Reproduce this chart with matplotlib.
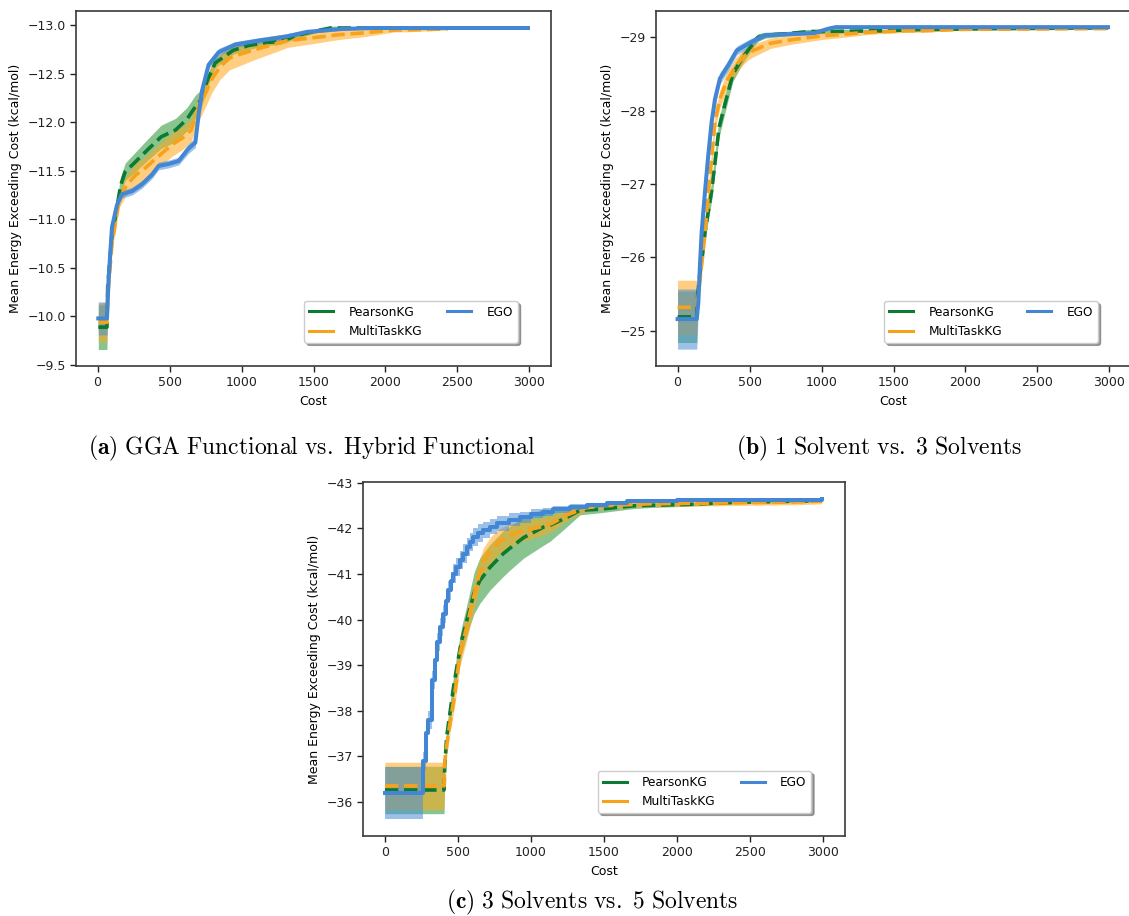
import numpy as np
import matplotlib
matplotlib.use("Agg")
import matplotlib.pyplot as plt

# ---------------- data ----------------
# Panel (a) GGA Functional vs. Hybrid Functional
a_pkg_x = [5, 65, 70, 100, 123, 160, 192, 255, 350, 442, 542, 620, 680, 717, 760, 817, 942, 1050, 1167, 1267, 1400, 1517, 1617, 1800, 2150]
a_pkg_mean = [-9.89, -9.89, -10.3, -10.85, -11.02, -11.35, -11.49, -11.58, -11.72, -11.85, -11.92, -12.03, -12.16, -12.23, -12.42, -12.61, -12.74, -12.79, -12.82, -12.83, -12.9, -12.94, -12.97, -12.97, -12.97]
a_pkg_err = [0.23, 0.23, 0.12, 0.08, 0.08, 0.09, 0.09, 0.1, 0.11, 0.12, 0.12, 0.12, 0.12, 0.1, 0.07, 0.05, 0.04, 0.04, 0.03, 0.03, 0.03, 0.02, 0.02, 0.01, 0.01]

a_mtkg_x = [5, 65, 70, 100, 150, 200, 267, 317, 400, 517, 592, 650, 705, 750, 792, 850, 917, 967, 1100, 1267, 1317, 1500, 1667, 1850, 2067, 2142, 2430]
a_mtkg_mean = [-9.94, -9.94, -10.2, -10.75, -11.2, -11.35, -11.46, -11.51, -11.62, -11.77, -11.84, -11.92, -12.16, -12.3, -12.44, -12.57, -12.66, -12.69, -12.75, -12.82, -12.84, -12.87, -12.9, -12.92, -12.95, -12.95, -12.96]
a_mtkg_err = [0.2, 0.2, 0.12, 0.08, 0.08, 0.1, 0.12, 0.12, 0.12, 0.12, 0.12, 0.12, 0.14, 0.14, 0.14, 0.13, 0.12, 0.12, 0.1, 0.08, 0.07, 0.06, 0.05, 0.04, 0.02, 0.02, 0.01]

a_ego_x = [5, 65, 76, 100, 135, 170, 239, 308, 378, 424, 494, 563, 632, 679, 702, 725, 771, 841, 957, 1119, 1304, 1455, 1700, 1917, 2990]
a_ego_mean = [-9.98, -9.98, -10.37, -10.92, -11.15, -11.26, -11.29, -11.36, -11.46, -11.55, -11.57, -11.60, -11.73, -11.79, -12.08, -12.32, -12.59, -12.72, -12.8, -12.84, -12.88, -12.93, -12.96, -12.97, -12.97]
a_ego_err = [0.17, 0.17, 0.05, 0.04, 0.04, 0.04, 0.04, 0.04, 0.04, 0.04, 0.04, 0.04, 0.05, 0.05, 0.05, 0.05, 0.04, 0.04, 0.03, 0.03, 0.03, 0.02, 0.01, 0.01, 0.01]

# Panel (b) 1 Solvent vs. 3 Solvents
b_pkg_x = [0, 133, 140, 156, 167, 190, 201, 236, 260, 288, 330, 384, 450, 500, 557, 610, 750, 920, 995, 1345, 1420, 1720, 1795, 2200, 2990]
b_pkg_mean = [-25.19, -25.19, -25.5, -25.81, -25.93, -26.34, -26.48, -26.9, -27.3, -27.77, -28.1, -28.5, -28.72, -28.85, -29.0, -29.03, -29.05, -29.08, -29.08, -29.09, -29.09, -29.11, -29.11, -29.12, -29.13]
b_pkg_err = [0.35, 0.35, 0.12, 0.12, 0.12, 0.12, 0.12, 0.13, 0.13, 0.13, 0.12, 0.1, 0.08, 0.06, 0.05, 0.04, 0.03, 0.03, 0.03, 0.02, 0.02, 0.02, 0.02, 0.01, 0.01]

b_mtkg_x = [0, 133, 140, 144, 178, 190, 213, 225, 248, 260, 294, 340, 400, 450, 500, 645, 800, 1000, 1195, 1320, 1595, 1695, 2000, 2990]
b_mtkg_mean = [-25.32, -25.32, -25.4, -25.48, -26.1, -26.34, -26.86, -27.1, -27.59, -27.86, -28.16, -28.4, -28.6, -28.72, -28.8, -28.92, -28.97, -29.02, -29.05, -29.07, -29.09, -29.09, -29.11, -29.12]
b_mtkg_err = [0.37, 0.37, 0.12, 0.12, 0.12, 0.12, 0.12, 0.12, 0.12, 0.12, 0.12, 0.12, 0.11, 0.1, 0.09, 0.07, 0.06, 0.05, 0.04, 0.03, 0.02, 0.02, 0.01, 0.01]

b_ego_x = [0, 133, 144, 155, 167, 190, 213, 236, 260, 294, 352, 410, 514, 607, 839, 950, 1000, 1050, 1100, 2990]
b_ego_mean = [-25.16, -25.16, -25.38, -25.88, -26.34, -26.89, -27.39, -27.84, -28.16, -28.44, -28.62, -28.82, -28.94, -29.03, -29.05, -29.06, -29.09, -29.12, -29.14, -29.14]
b_ego_err = [0.41, 0.41, 0.1, 0.1, 0.1, 0.1, 0.1, 0.1, 0.09, 0.08, 0.07, 0.06, 0.05, 0.03, 0.02, 0.02, 0.02, 0.01, 0.01, 0.01]

# Panel (c) 3 Solvents vs. 5 Solvents
c_pkg_x = [0, 405, 410, 423, 469, 500, 526, 570, 610, 651, 720, 811, 857, 950, 1085, 1131, 1250, 1336, 1460, 1713, 1829, 2090, 2207, 2454, 2502, 2831, 2990]
c_pkg_mean = [-36.26, -36.26, -36.8, -37.43, -38.5, -39.1, -39.55, -40.1, -40.58, -40.86, -41.15, -41.45, -41.57, -41.8, -42.03, -42.07, -42.25, -42.4, -42.42, -42.5, -42.51, -42.53, -42.55, -42.58, -42.58, -42.6, -42.61]
c_pkg_err = [0.52, 0.52, 0.2, 0.2, 0.25, 0.28, 0.3, 0.35, 0.45, 0.5, 0.5, 0.5, 0.48, 0.45, 0.4, 0.35, 0.2, 0.1, 0.08, 0.06, 0.05, 0.04, 0.04, 0.03, 0.03, 0.03, 0.03]

c_mtkg_x = [0, 405, 410, 434, 480, 514, 560, 600, 651, 674, 720, 777, 857, 950, 1063, 1142, 1250, 1371, 1500, 1800, 2300, 2800, 2990]
c_mtkg_mean = [-36.35, -36.35, -36.9, -37.5, -38.4, -39.26, -39.84, -40.4, -41.05, -41.27, -41.5, -41.7, -41.85, -41.95, -42.03, -42.11, -42.3, -42.45, -42.5, -42.54, -42.56, -42.58, -42.6]
c_mtkg_err = [0.52, 0.52, 0.2, 0.22, 0.25, 0.28, 0.3, 0.3, 0.3, 0.3, 0.3, 0.28, 0.25, 0.22, 0.2, 0.18, 0.12, 0.08, 0.07, 0.06, 0.06, 0.06, 0.06]

c_ego_x = [0, 263, 280, 297, 320, 343, 360, 377, 400, 417, 434, 452, 469, 490, 514, 537, 560, 583, 606, 640, 674, 720, 766, 850, 926, 1000, 1080, 1154, 1270, 1382, 1520, 1657, 2000, 2342, 2990]
c_ego_mean = [-36.19, -36.9, -37.5, -37.79, -38.67, -39.11, -39.5, -39.84, -40.13, -40.4, -40.64, -40.85, -41.01, -41.15, -41.30, -41.45, -41.59, -41.7, -41.81, -41.9, -41.96, -42.04, -42.11, -42.19, -42.25, -42.32, -42.37, -42.42, -42.47, -42.51, -42.56, -42.6, -42.62, -42.63, -42.64]
c_ego_err = [0.57, 0.2, 0.2, 0.2, 0.2, 0.2, 0.2, 0.2, 0.2, 0.2, 0.2, 0.2, 0.2, 0.2, 0.2, 0.2, 0.2, 0.2, 0.2, 0.19, 0.18, 0.17, 0.16, 0.14, 0.12, 0.1, 0.09, 0.08, 0.07, 0.06, 0.05, 0.04, 0.03, 0.03, 0.03]

labels = ["PearsonKG", "MultiTaskKG", "EGO"]
captions = [r"$\mathbf{(a)}\ \mathrm{GGA\ Functional\ vs.\ Hybrid\ Functional}$",
            r"$\mathbf{(b)}\ \mathrm{1\ Solvent\ vs.\ 3\ Solvents}$",
            r"$\mathbf{(c)}\ \mathrm{3\ Solvents\ vs.\ 5\ Solvents}$"]
ylabel = "Mean Energy Exceeding Cost (kcal/mol)"
xticks = [0, 500, 1000, 1500, 2000, 2500, 3000]

# ---------------- styling ----------------
plt.rcParams['mathtext.fontset'] = 'cm'
plt.rcParams['font.family'] = ['DejaVu Sans']
plt.rcParams['font.size'] = 9

line_colors = ['#0c7a32', '#f7a21b', '#4386d3']
fill_colors = ['#3a9e45', '#ffa71a', '#4a8fd8']
fill_alpha = [0.6, 0.55, 0.55]
styles = ['--', '--', '-']
widths = [2.6, 2.6, 2.9]

W, H = 1129, 916
fig = plt.figure(figsize=(W / 100, H / 100), dpi=100)


def ax_at(l, t, r, b):
    return fig.add_axes([l / W, 1 - b / H, (r - l) / W, (b - t) / H])


def draw(ax, series, ylim, yticks, stepped=(False, False, False)):
    for i, (x, m, e) in enumerate(series):
        x = np.asarray(x, float)
        m = np.asarray(m, float)
        e = np.asarray(e, float)
        ax.fill_between(x, m - e, m + e, color=fill_colors[i], alpha=fill_alpha[i], lw=0,
                        zorder=1 + i, step='post' if stepped[i] else None)
    for i, (x, m, e) in enumerate(series):
        ax.plot(x, m, ls=styles[i], color=line_colors[i], lw=widths[i], label=labels[i],
                zorder=5 + i, drawstyle='steps-post' if stepped[i] else 'default')
    ax.set_xlim(-150, 3150)
    ax.set_ylim(*ylim)
    ax.set_xticks(xticks)
    ax.set_yticks(yticks)
    ax.set_xlabel("Cost")
    ax.set_ylabel(ylabel)
    for s in ax.spines.values():
        s.set_color('#3a3a3a')
        s.set_linewidth(1.2)
    ax.tick_params(colors='#222222', width=1.0, length=4)
    leg = ax.legend(loc='lower right', bbox_to_anchor=(0.93, 0.066), borderaxespad=0,
                    ncol=2, shadow=True, fancybox=True, framealpha=1,
                    handlelength=2.0, handletextpad=1.25, columnspacing=2.1,
                    fontsize=8.7)
    leg.get_frame().set_edgecolor('#cccccc')
    for h in leg.get_lines():
        h.set_linestyle('-')
        h.set_linewidth(2.2)


ax_a = ax_at(76, 11, 551, 366)
draw(ax_a, [(a_pkg_x, a_pkg_mean, a_pkg_err), (a_mtkg_x, a_mtkg_mean, a_mtkg_err), (a_ego_x, a_ego_mean, a_ego_err)],
     (-9.49, -13.145), [-13.0, -12.5, -12.0, -11.5, -11.0, -10.5, -10.0, -9.5])

ax_b = ax_at(656, 11, 1131, 366)
draw(ax_b, [(b_pkg_x, b_pkg_mean, b_pkg_err), (b_mtkg_x, b_mtkg_mean, b_mtkg_err), (b_ego_x, b_ego_mean, b_ego_err)],
     (-24.52, -29.36), [-29, -28, -27, -26, -25])

ax_c = ax_at(363, 482, 845, 836)
draw(ax_c, [(c_pkg_x, c_pkg_mean, c_pkg_err), (c_mtkg_x, c_mtkg_mean, c_mtkg_err), (c_ego_x, c_ego_mean, c_ego_err)],
     (-35.25, -43.02), [-43, -42, -41, -40, -39, -38, -37, -36], stepped=(False, False, True))

fig.text(312 / W, 1 - 448 / H, captions[0], ha='center', va='center', fontsize=17)
fig.text(879 / W, 1 - 448 / H, captions[1], ha='center', va='center', fontsize=17)
fig.text(592 / W, 1 - 902 / H, captions[2], ha='center', va='center', fontsize=17)

fig.savefig("out.png", dpi=100)
